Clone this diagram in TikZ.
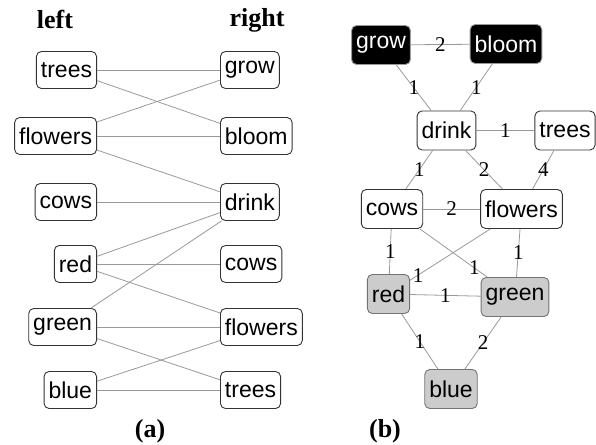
\documentclass[tikz,border=0pt]{standalone}
\usepackage{fontspec}
\setmainfont{Liberation Serif}
\setsansfont{Liberation Sans}
\begin{document}
\begin{tikzpicture}[x=1pt,y=-1pt,
    word/.style={draw=black!80, line width=0.9pt, rounded corners=5pt, fill=white,
      font=\sffamily\fontsize{23}{26}\selectfont, inner xsep=4.5pt, minimum height=37pt},
    cword/.style={word, minimum height=39pt},
    seed/.style={cword, fill=black, draw=black!40, text=white},
    hue/.style={cword, fill=black!20, draw=black!55},
    link/.style={draw=black!40, line width=0.8pt},
    weight/.style={font=\fontsize{21}{24}\selectfont, inner sep=0pt},
    caption/.style={font=\bfseries\fontsize{26}{30}\selectfont}]
  \useasboundingbox (0,0) rectangle (596,444);
  % (a)
  \draw
    (55,19) node[caption] (lhead){left}
    (257,20) node[caption] (rhead){right}
    (150,431) node[caption] (acap){(a)}
    (97,70) node[word, anchor=east] (ltrees){trees}
    (97,136) node[word, anchor=east] (lflowers){flowers}
    (97,202) node[word, anchor=east] (lcows){cows}
    (97,264) node[word, anchor=east] (lred){red}
    (97,327) node[word, anchor=east] (lgreen){green}
    (97,390) node[word, anchor=east] (lblue){blue}
    (220,70) node[word, anchor=west] (rgrow){grow}
    (220,136) node[word, anchor=west] (rbloom){bloom}
    (220,202) node[word, anchor=west] (rdrink){drink}
    (220,264) node[word, anchor=west] (rcows){cows}
    (220,327) node[word, anchor=west] (rflowers){flowers}
    (220,390) node[word, anchor=west] (rtrees){trees};
  \begin{scope}[link]
    \draw (ltrees) to (rgrow);
    \draw (ltrees) to (rbloom);
    \draw (lflowers) to (rgrow);
    \draw (lflowers) to (rbloom);
    \draw (lflowers) to (rdrink);
    \draw (lcows) to (rdrink);
    \draw (lred) to (rdrink);
    \draw (lred) to (rcows);
    \draw (lred) to (rflowers);
    \draw (lgreen) to (rdrink);
    \draw (lgreen) to (rflowers);
    \draw (lgreen) to (rtrees);
    \draw (lblue) to (rflowers);
    \draw (lblue) to (rtrees);
  \end{scope}
  % (b)
  \draw
    (385,431) node[caption] (bcap){(b)}
    (381,45) node[seed] (bgrow){grow}
    (506,44) node[seed] (bbloom){bloom}
    (446.5,130.5) node[cword] (bdrink){drink}
    (565,130.5) node[cword] (btrees){trees}
    (392,209) node[cword] (bcows){cows}
    (521.5,209) node[cword] (bflowers){flowers}
    (388.5,294) node[hue] (bred){red}
    (515,297) node[hue] (bgreen){green}
    (451,389) node[hue] (bblue){blue};
  \begin{scope}[link]
    \draw (bgrow) to node[weight]{2} (bbloom);
    \draw (bgrow) to node[weight]{1} (bdrink);
    \draw (bbloom) to node[weight]{1} (bdrink);
    \draw (bdrink) to node[weight]{1} (btrees);
    \draw (bdrink) to node[weight]{1} (bcows);
    \draw (bdrink) to node[weight]{2} (bflowers);
    \draw (btrees) to node[weight]{4} (bflowers);
    \draw (bcows) to node[weight]{2} (bflowers);
    \draw (bcows) to node[weight]{1} (bred);
    \draw (bcows) to node[weight, pos=0.81]{1} (bgreen);
    \draw (bflowers) to node[weight, pos=0.9]{1} (bred);
    \draw (bflowers) to node[weight]{1} (bgreen);
    \draw (bred) to node[weight]{1} (bgreen);
    \draw (bred) to node[weight]{1} (bblue);
    \draw (bgreen) to node[weight]{2} (bblue);
  \end{scope}
\end{tikzpicture}
\end{document}
